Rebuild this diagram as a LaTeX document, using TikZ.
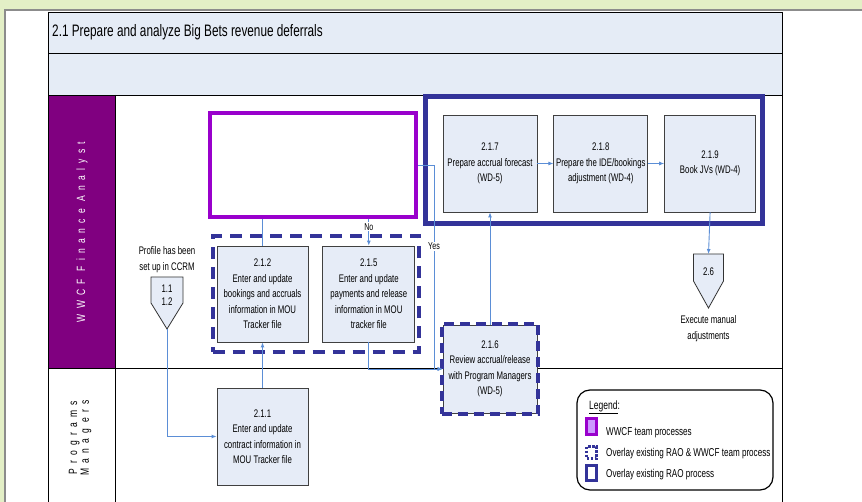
\documentclass[tikz,border=0pt]{standalone}
\usepackage{fontspec}
\setmainfont{Liberation Sans}
\newfontfamily\narrowfont{Liberation Sans}[FakeStretch=0.71]
\newfontfamily\lanefont{Liberation Sans}[FakeStretch=0.71,LetterSpace=44]
\usepackage{xcolor}
\usetikzlibrary{arrows.meta,positioning,fit,calc}
\definecolor{bggreen}{HTML}{E3EFC6}
\definecolor{panelgray}{HTML}{8C8C8C}
\definecolor{rowblue}{HTML}{E5ECF6}
\definecolor{boxblue}{HTML}{E6ECF7}
\definecolor{lanepurple}{HTML}{800080}
\definecolor{wwcfviolet}{HTML}{9900CC}
\definecolor{wwcflight}{HTML}{CC99FF}
\definecolor{raoblue}{HTML}{333399}
\definecolor{flowblue}{HTML}{5B8ED6}

\begin{document}
\begin{tikzpicture}[
  x=1pt,y=-1pt,
  node distance=16pt,
  every node/.style={font=\narrowfont\fontsize{11}{15.5}\selectfont},
  pbox/.style={draw=black!75,fill=boxblue,line width=0.8pt,minimum width=94pt,
               minimum height=96pt,inner sep=1pt,align=center},
  wwcfbox/.style={draw=wwcfviolet,line width=4pt,fill=white},
  raobox/.style={draw=raoblue,line width=5pt},
  ovl/.style={draw=raoblue,line width=4pt,dash pattern=on 12pt off 8pt},
  flow/.style={draw=flowblue,line width=0.9pt,-{Latex[length=5pt,width=4pt]}},
  link/.style={draw=flowblue,line width=0.9pt},
  offpg/.style={draw=black!80,fill=boxblue,line width=0.8pt},
  lbl/.style={font=\narrowfont\fontsize{10}{10}\selectfont,inner sep=1pt},
  txt/.style={align=center,font=\narrowfont\fontsize{11}{16.5}\selectfont},
  lgtxt/.style={anchor=west,inner sep=0pt,font=\narrowfont\fontsize{11.4}{12}\selectfont},
]
\useasboundingbox (0,0) rectangle (862,502);
\fill[bggreen] (0,0) rectangle (862,502);
\draw[panelgray,line width=1.5pt,fill=white] (5,10) rectangle (880,520);

% swimlane table
\fill[rowblue] (48,12) rectangle (782,95);
\fill[lanepurple] (48,95) rectangle (115,368);
\draw[line width=0.9pt] (48,12) -- (782,12) (48,53) -- (782,53)
  (48,95) -- (782,95) (48,368) -- (782,368)
  (48,12) -- (48,510) (782,12) -- (782,510) (115,95) -- (115,510);
\node[anchor=west,inner sep=0pt,font=\narrowfont\fontsize{16.6}{18}\selectfont] (title) at (52,32)
  {2.1 Prepare and analyze Big Bets revenue deferrals};
\node[rotate=90,text=white,font=\lanefont\fontsize{12}{12}\selectfont] (lanefa) at (82,232)
  {WWCF Finance Analyst};
\node[rotate=90,align=center,font=\lanefont\fontsize{12}{10.5}\selectfont] (lanepm) at (80,438)
  {Programs\\Managers};

% process groups
\node[wwcfbox,minimum width=206pt,minimum height=104pt] (wwcf) at (313,165) {};
\node[raobox,minimum width=337pt,minimum height=127pt] (rao) at (594,160) {};

\node[pbox,minimum height=97pt] (b217) at (490,163.5) {2.1.7\\Prepare accrual forecast\\(WD-5)};
\node[pbox,minimum height=97pt,right=of b217] (b218) {2.1.8\\Prepare the IDE/bookings\\adjustment (WD-4)};
\node[pbox,minimum height=97pt,minimum width=91pt,right=of b218] (b219) {2.1.9\\Book JVs (WD-4)};

\node[pbox,minimum width=91pt] (b212) at (262.5,294)
  {2.1.2\\Enter and update\\bookings and accruals\\information in MOU\\Tracker file};
\node[pbox,minimum width=92pt,right=14pt of b212] (b215)
  {2.1.5\\Enter and update\\payments and release\\information in MOU\\tracker file};
\node[ovl,fit=(b212)(b215),inner xsep=4pt,inner ysep=9.5pt] (grp) {};

\node[pbox,minimum height=88pt] (b216) at (490,369)
  {2.1.6\\Review accrual/release\\with Program Managers\\(WD-5)};
\node[ovl,dash pattern=on 10pt off 6pt,fit=(b216),inner sep=1pt] (ovl216) {};

\node[pbox,minimum width=91pt,minimum height=97pt] (b211) at (262.5,436.5)
  {2.1.1\\Enter and update\\contract information in\\MOU Tracker file};

% off-page connectors
\node[txt] (prof) at (167,259.5) {Profile has been\\set up in CCRM};
\draw[offpg] (151,277) -- (183,277) -- (183,303) -- (167,329) -- (151,303) -- cycle;
\coordinate (p11tip) at (167,329);
\node[align=center,font=\narrowfont\fontsize{11}{13}\selectfont] (p11) at (167,295.5) {1.1\\1.2};

\draw[offpg] (693.5,254) -- (723.5,254) -- (723.5,281) -- (708.5,308) -- (693.5,281) -- cycle;
\coordinate (p26top) at (708.5,254);
\node (p26) at (708.5,272) {2.6};
\node[txt] (exec) at (708.5,328.5) {Execute manual\\adjustments};

% connectors
\draw[link] (wwcf.south -| b212.north) -- (b212.north);
\draw[flow] (wwcf.south -| b215.north) -- node[lbl,pos=0.3,fill=white]{No} (b215.north);
\draw[flow] (wwcf.east) -- ++(16,0) coordinate (yesbend) |- node[lbl,pos=0.2,fill=white]{Yes} (b216.west);
\draw[flow] (b215.south) |- (b216.west);
\draw[flow] (b211.north) -- (b212.south);
\draw[flow] (p11tip) |- (b211.west);
\draw[flow] (b216.north) -- (b217.south);
\draw[flow] (b217) -- (b218);
\draw[flow] (b218) -- (b219);
\draw[flow] (b219.south) -- (p26top);

% legend
\node[draw,line width=1.2pt,rounded corners=13pt,minimum width=196pt,minimum height=100pt] (legend) at (675,440) {};
\node[lgtxt,font=\narrowfont\fontsize{12}{12}\selectfont] (legtitle) at (589,407) {\underline{Legend}:};
\node[draw=wwcfviolet,fill=wwcflight,line width=2.5pt,minimum width=10pt,minimum height=16pt,inner sep=0pt] (sw1) at (591.5,426.5) {};
\node[draw=raoblue,line width=2.5pt,dash pattern=on 2.5pt off 1.5pt,fill=white,minimum width=10pt,minimum height=12pt,inner sep=0pt] (sw2) at (591.5,452.5) {};
\node[draw=raoblue,line width=2.5pt,fill=white,minimum width=10pt,minimum height=15pt,inner sep=0pt] (sw3) at (591.5,473) {};
\node[lgtxt] (lt1) at (606,433) {WWCF team processes};
\node[lgtxt] (lt2) at (606,454) {Overlay existing RAO \& WWCF team process};
\node[lgtxt] (lt3) at (606,475) {Overlay existing RAO process};
\end{tikzpicture}
\end{document}
